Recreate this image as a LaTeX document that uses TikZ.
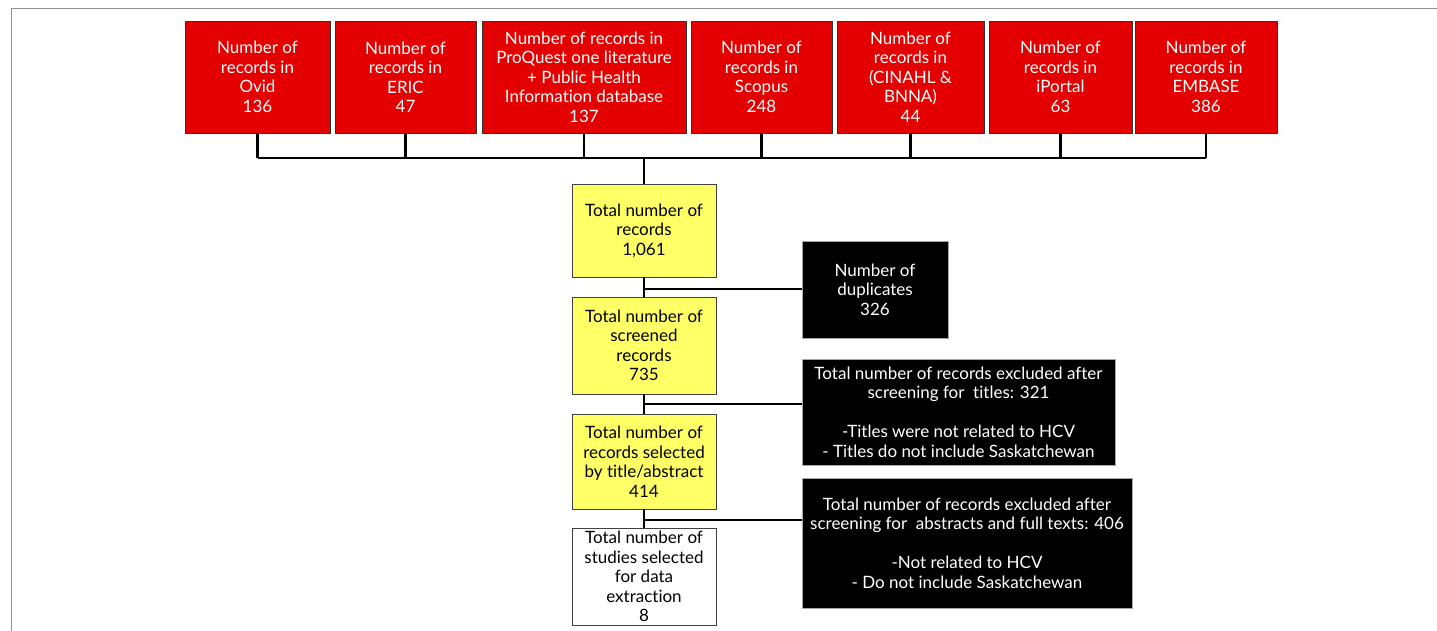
\documentclass[tikz,border=0pt]{standalone}
\usepackage{fontspec}
\setmainfont[Ligatures={NoCommon,NoRare}]{Lato}
\definecolor{pred}{RGB}{228,0,0}
\definecolor{pyel}{RGB}{255,255,102}
\definecolor{framec}{RGB}{140,145,150}
\begin{document}
\begin{tikzpicture}[x=1pt,y=-1pt,
  every node/.style={font=\fontsize{17}{19.5}\selectfont, align=center, inner sep=0pt},
  redbox/.style={draw=black!80, line width=0.9pt, fill=pred, text=white, minimum height=112pt},
  ybox/.style={draw=black!75, line width=0.9pt, fill=pyel, text=black, minimum width=144pt},
  wbox/.style={draw=black!75, line width=0.9pt, fill=white, text=black, minimum width=144pt},
  kbox/.style={draw=black!35, line width=0.9pt, fill=black, text=white},
  link/.style={line width=2.2pt, black}]
\useasboundingbox (0,0) rectangle (1437,631);
\draw[framec, line width=1.6pt] (11.5,631) -- (11.5,8.5) -- (1437,8.5);

% source boxes
\node[redbox, minimum width=145pt] (r1) at (257.5,77) {Number of\\records in\\Ovid\\136};
\node[redbox, minimum width=141pt] (r2) at (405.5,77) {Number of\\records in\\ERIC\\47};
\node[redbox, minimum width=204pt] (r3) at (584,77) {Number of records in\\ProQuest one literature\\+ Public Health\\Information database\\137};
\node[redbox, minimum width=141pt] (r4) at (761.5,77) {Number of\\records in\\Scopus\\248};
\node[redbox, minimum width=147pt] (r5) at (910.5,77) {Number of\\records in\\(CINAHL \&\\BNNA)\\44};
\node[redbox, minimum width=143pt] (r6) at (1060.5,77) {Number of\\records in\\iPortal\\63};
\node[redbox, minimum width=142pt] (r7) at (1206,77) {Number of\\records in\\EMBASE\\386};

% main column
\node[ybox, minimum height=93pt] (y1) at (644,230.5) {Total number of\\records\\1,061};
\node[ybox, minimum height=97pt] (y2) at (644,345.5) {Total number of\\screened\\records\\735};
\node[ybox, minimum height=95pt] (y3) at (644,461.5) {Total number of\\records selected\\by title/abstract\\414};
\node[wbox, minimum height=97pt] (w1) at (644,576.5) {Total number of\\studies selected\\for data\\extraction\\8};

% exclusion boxes
\node[kbox, minimum width=146pt, minimum height=97pt] (dup) at (875,289.5) {Number of\\duplicates\\326};
\node[kbox, minimum width=313pt, minimum height=106pt] (ex1) at (958.5,412) {Total number of records excluded after\\screening for\ \ titles: 321\\ ~ \\-Titles were not related to HCV\\- Titles do not include Saskatchewan};
\node[kbox, minimum width=330pt, minimum height=130pt] (ex2) at (967,543) {Total number of records excluded after\\screening for\ \ abstracts and full texts: 406\\ ~ \\-Not related to HCV\\- Do not include Saskatchewan};

% connectors
\coordinate (bus) at (644,158);
\foreach \i in {r1,r2,r3,r4,r5,r6,r7} {\draw[link] (\i.south) -- (\i.south |- bus);}
\draw[link] (r1.south |- bus) -- (r7.south |- bus);
\draw[link] (bus) -- (y1.north);
\draw[link] (y1.south) -- (y2.north);
\draw[link] (y2.south) -- (y3.north);
\draw[link] (y3.south) -- (w1.north);
\coordinate (j1) at (644,289);
\coordinate (j2) at (644,404);
\coordinate (j3) at (644,520);
\draw[link] (j1) -- (j1 -| dup.west);
\draw[link] (j2) -- (j2 -| ex1.west);
\draw[link] (j3) -- (j3 -| ex2.west);
\end{tikzpicture}
\end{document}
